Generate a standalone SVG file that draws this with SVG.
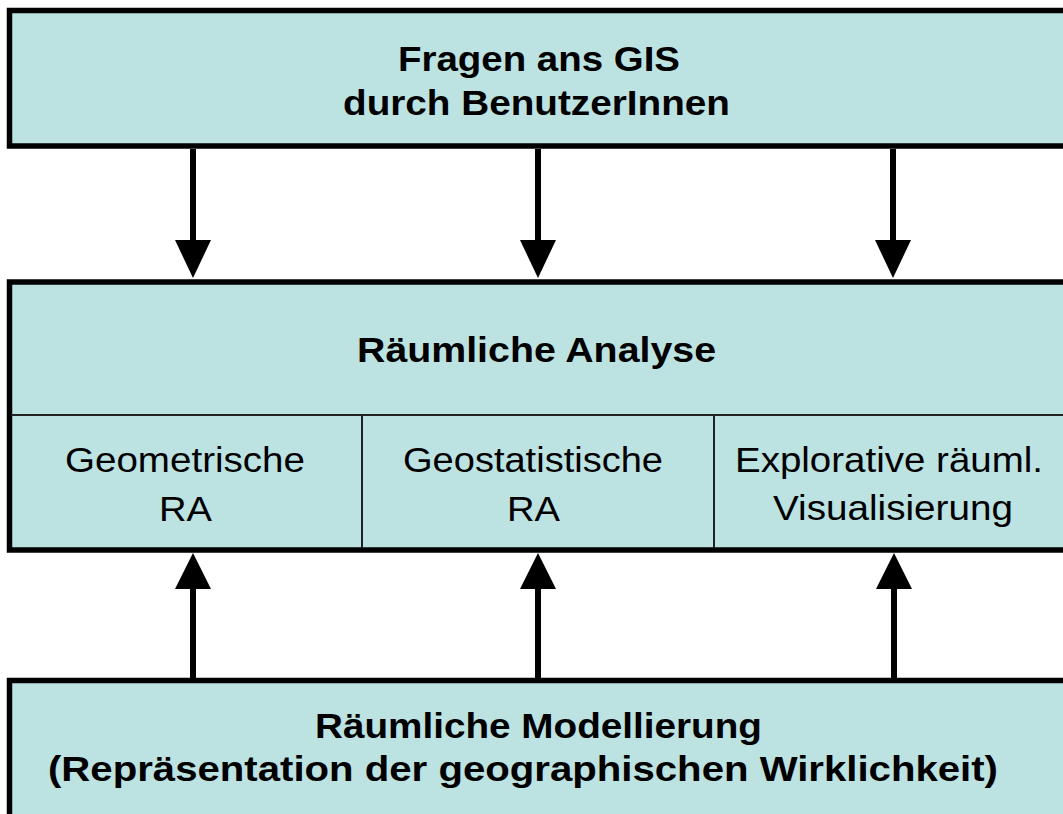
<svg xmlns="http://www.w3.org/2000/svg" width="1063" height="814" viewBox="0 0 1063 814">
<style>
.box{fill:#bce2e2;stroke:#000;stroke-width:5.5}
.div{stroke:#222;stroke-width:2;fill:none}
.t{font-family:"Liberation Sans",Arial,sans-serif;font-size:35px;fill:#000;text-anchor:start}
.b{font-weight:bold}
.ln{stroke:#000;stroke-width:6;fill:none}
.hd{fill:#000}
</style>
<rect width="1063" height="814" fill="#fff"/>
<g id="top">
<rect class="box" x="9.5" y="10.5" width="1070" height="135.5"/>
<text class="t b" x="398" y="71" textLength="282" lengthAdjust="spacingAndGlyphs">Fragen ans GIS</text>
<text class="t b" x="343" y="115" textLength="387" lengthAdjust="spacingAndGlyphs">durch BenutzerInnen</text>
</g>
<g id="analyse">
<rect class="box" x="9.5" y="282" width="1070" height="268"/>
<line class="div" x1="11" y1="415" x2="1063" y2="415"/>
<line class="div" x1="362" y1="415" x2="362" y2="548"/>
<line class="div" x1="714" y1="415" x2="714" y2="548"/>
<text class="t b" x="357" y="362" textLength="359" lengthAdjust="spacingAndGlyphs">Räumliche Analyse</text>
</g>
<g id="geom">
<text class="t" x="65" y="472" textLength="240" lengthAdjust="spacingAndGlyphs">Geometrische</text>
<text class="t" x="159" y="521" textLength="53" lengthAdjust="spacingAndGlyphs">RA</text>
</g>
<g id="geostat">
<text class="t" x="403" y="472" textLength="260" lengthAdjust="spacingAndGlyphs">Geostatistische</text>
<text class="t" x="507" y="521" textLength="53" lengthAdjust="spacingAndGlyphs">RA</text>
</g>
<g id="explor">
<text class="t" x="735" y="472" textLength="308" lengthAdjust="spacingAndGlyphs">Explorative räuml.</text>
<text class="t" x="773" y="520" textLength="240" lengthAdjust="spacingAndGlyphs">Visualisierung</text>
</g>
<g id="modell">
<rect class="box" x="9.5" y="680.5" width="1070" height="160"/>
<text class="t b" x="315" y="738" textLength="447" lengthAdjust="spacingAndGlyphs">Räumliche Modellierung</text>
<text class="t b" x="48" y="781" textLength="950" lengthAdjust="spacingAndGlyphs">(Repräsentation der geographischen Wirklichkeit)</text>
</g>
<g id="connectors">
<line class="ln" x1="193" y1="149" x2="193" y2="242"/>
<polygon class="hd" points="175,240 211,240 193,278"/>
<line class="ln" x1="538" y1="149" x2="538" y2="242"/>
<polygon class="hd" points="520,240 556,240 538,278"/>
<line class="ln" x1="893" y1="149" x2="893" y2="242"/>
<polygon class="hd" points="875,240 911,240 893,278"/>
<line class="ln" x1="193" y1="587" x2="193" y2="678"/>
<polygon class="hd" points="193,553 175,589 211,589"/>
<line class="ln" x1="538" y1="587" x2="538" y2="678"/>
<polygon class="hd" points="538,553 520,589 556,589"/>
<line class="ln" x1="894" y1="587" x2="894" y2="678"/>
<polygon class="hd" points="894,553 876,589 912,589"/>
</g>
</svg>
